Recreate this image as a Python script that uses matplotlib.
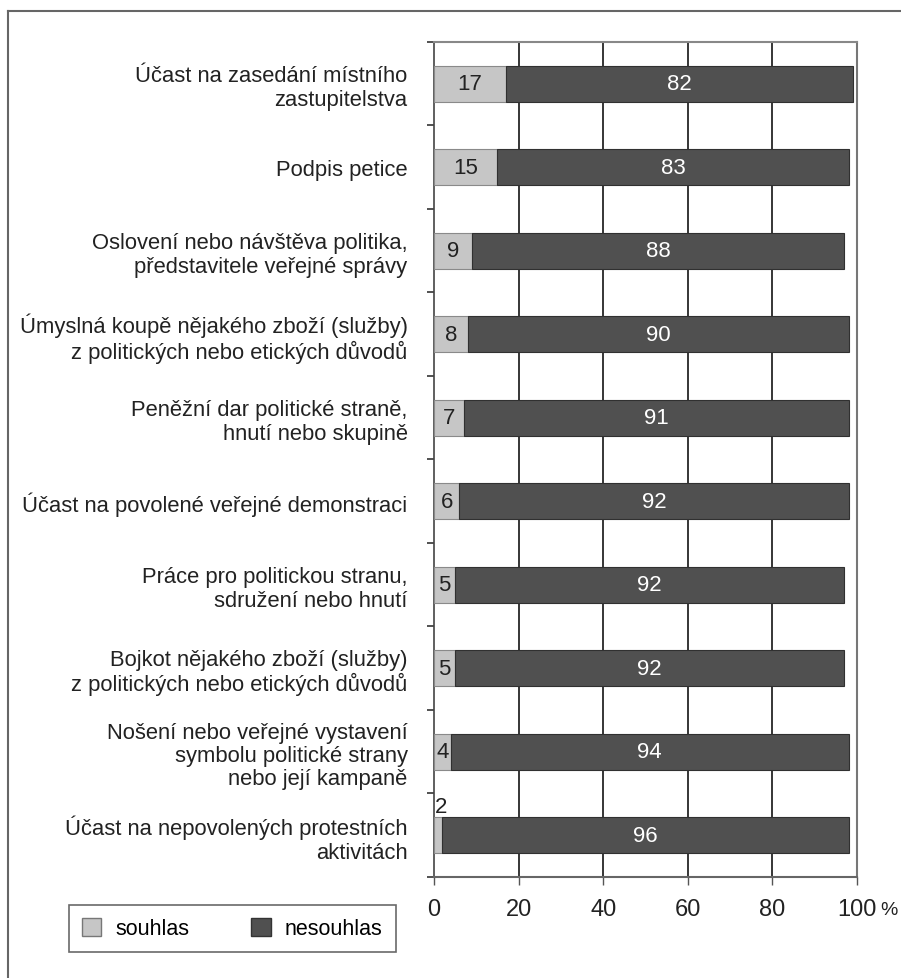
import numpy as np
import matplotlib
matplotlib.use("Agg")
from matplotlib import pyplot as plt
from matplotlib.patches import Patch
from matplotlib.lines import Line2D

plt.rcParams['font.family'] = ['Liberation Sans', 'DejaVu Sans']

# kategorie odshora dolů
categories = [
    "Účast na zasedání místního\nzastupitelstva",
    "Podpis petice",
    "Oslovení nebo návštěva politika,\npředstavitele veřejné správy",
    "Úmyslná koupě nějakého zboží (služby)\nz politických nebo etických důvodů",
    "Peněžní dar politické straně,\nhnutí nebo skupině",
    "Účast na povolené veřejné demonstraci",
    "Práce pro politickou stranu,\nsdružení nebo hnutí",
    "Bojkot nějakého zboží (služby)\nz politických nebo etických důvodů",
    "Nošení nebo veřejné vystavení\nsymbolu politické strany\nnebo její kampaně",
    "Účast na nepovolených protestních\naktivitách",
]
souhlas = [17, 15, 9, 8, 7, 6, 5, 5, 4, 2]
nesouhlas = [82, 83, 88, 90, 91, 92, 92, 92, 94, 96]
xticks = [0, 20, 40, 60, 80, 100]

light = '#c6c6c6'
dark = '#505050'

fig = plt.figure(figsize=(9.01, 9.79), dpi=100)
ax = fig.add_axes([0.4817, 0.1032, 0.4695, 0.8530])

y = np.arange(len(categories))
h = 0.43
ax.barh(y, souhlas, height=h, color=light, edgecolor='#8a8a8a', linewidth=0.8, zorder=3)
ax.barh(y, nesouhlas, left=souhlas, height=h, color=dark, edgecolor='#303030', linewidth=0.8, zorder=3)

for i in range(len(categories)):
    s = souhlas[i]
    n = nesouhlas[i]
    if s >= 4:
        ax.text(s / 2, i, str(s), ha='center', va='center', fontsize=16, color='#222222', zorder=4)
    else:
        ax.text(s / 2 + 0.6, i - 0.34, str(s), ha='center', va='center', fontsize=16, color='#222222', zorder=4)
    ax.text(s + n / 2, i, str(n), ha='center', va='center', fontsize=16, color='white', zorder=4)

ax.set_xlim(0, 100)
ax.set_ylim(len(categories) - 0.5, -0.5)

ax.set_xticks(xticks)
ax.set_xticklabels([str(t) for t in xticks], fontsize=17, color='#222222')
ax.tick_params(axis='x', direction='out', length=6, width=1, color='#555555', pad=9)
ax.text(1.075, -0.039, '%', transform=ax.transAxes, fontsize=14, color='#222222', ha='center', va='center')

ax.set_yticks(y)
ax.set_yticklabels(categories, fontsize=15.8, color='#222222', linespacing=1.15)
ax.tick_params(axis='y', which='major', length=0, pad=19)
ax.set_yticks(np.arange(-0.5, len(categories) + 0.5, 1), minor=True)
ax.tick_params(axis='y', which='minor', direction='out', length=5, width=1.2, color='#333333')

for t in xticks[1:-1]:
    ax.axvline(t, color='black', linewidth=1.1, zorder=1)

ax.spines['left'].set_color('#444444')
ax.spines['left'].set_linewidth(1.2)
ax.spines['bottom'].set_color('#666666')
ax.spines['bottom'].set_linewidth(1.5)
ax.spines['top'].set_color('#888888')
ax.spines['top'].set_linewidth(1.5)
ax.spines['right'].set_color('#777777')
ax.spines['right'].set_linewidth(1.5)

# rámeček obrázku
fy = 1 - 12 / 979
fx = 8 / 901
fig.add_artist(Line2D([fx, fx], [0, fy], transform=fig.transFigure, color='#666666', linewidth=1.5))
fig.add_artist(Line2D([fx, 1], [fy, fy], transform=fig.transFigure, color='#666666', linewidth=1.5))

handles = [Patch(facecolor=light, edgecolor='#777777', label='souhlas'),
           Patch(facecolor=dark, edgecolor='#333333', label='nesouhlas')]
leg = fig.legend(handles=handles, loc='lower left', bbox_to_anchor=(58 / 901, 1 - 964 / 979),
                 ncol=2, fontsize=15.5, frameon=True, fancybox=False, handlelength=0.9,
                 handleheight=0.9, columnspacing=2.9, handletextpad=0.65, borderpad=0.6,
                 edgecolor='#444444')
leg.get_frame().set_linewidth(1.2)

fig.savefig('out.png', dpi=100, facecolor='white')
